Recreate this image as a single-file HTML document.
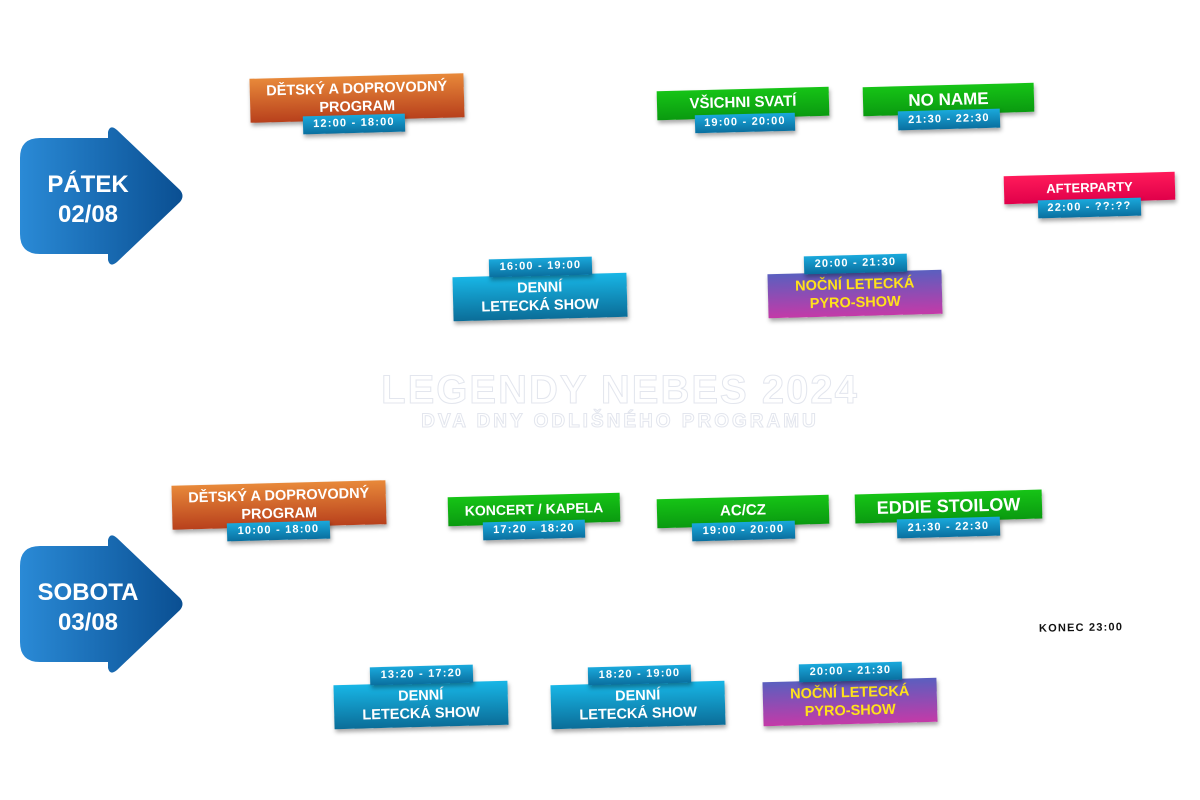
<!DOCTYPE html>
<html><head><meta charset="utf-8"><style>
body{margin:0;width:1200px;height:800px;background:#fff;position:relative;overflow:hidden;font-family:"Liberation Sans",sans-serif;}
.b{position:absolute;display:flex;align-items:center;justify-content:center;text-align:center;color:#fff;font-weight:bold;transform:rotate(-1.5deg);box-shadow:1px 3px 4px rgba(0,0,0,.35);line-height:1.25;}
.m{font-size:14.5px;}
.t{font-size:11px;letter-spacing:1.2px;background:linear-gradient(#1aa9dc,#0a6f9f);z-index:2;}
.or{background:linear-gradient(#e8893a,#b8401c);}
.gr{background:linear-gradient(#16c416,#0a9a10);font-size:15px;}
.bl{background:linear-gradient(#18b6e6,#0b6d98);}
.pu{background:linear-gradient(#5a5fbf,#c43aa8);color:#ffe21a;}
.pk{background:linear-gradient(#ff1a5a,#e0004a);font-size:13px;}
.center{position:absolute;left:20px;width:1200px;text-align:center;color:transparent;-webkit-text-stroke:1px #e3e6ee;font-weight:bold;}
</style></head><body>

<svg width="1200" height="800" style="position:absolute;left:0;top:0">
<defs><linearGradient id="ag" x1="0" x2="1"><stop offset="0" stop-color="#2a8ad6"/><stop offset="1" stop-color="#0a4f92"/></linearGradient></defs>
<path d="M40 138 H108 V132 Q110 124 117 130 L180 190 Q185 196 180 202 L117 262 Q110 268 108 260 V254 H40 Q20 254 20 234 V158 Q20 138 40 138Z" fill="url(#ag)"/>
<path d="M40 546 H108 V540 Q110 532 117 538 L180 598 Q185 604 180 610 L117 670 Q110 676 108 668 V662 H40 Q20 662 20 642 V566 Q20 546 40 546Z" fill="url(#ag)"/>
<text x="88" y="192" fill="#fff" font-size="24" font-weight="bold" text-anchor="middle" font-family="Liberation Sans">PÁTEK</text>
<text x="88" y="222" fill="#fff" font-size="24" font-weight="bold" text-anchor="middle" font-family="Liberation Sans">02/08</text>
<text x="88" y="600" fill="#fff" font-size="24" font-weight="bold" text-anchor="middle" font-family="Liberation Sans">SOBOTA</text>
<text x="88" y="630" fill="#fff" font-size="24" font-weight="bold" text-anchor="middle" font-family="Liberation Sans">03/08</text>
</svg>

<div class="center" style="top:368px;font-size:40px;letter-spacing:2px">LEGENDY NEBES 2024</div>
<div class="center" style="top:411px;font-size:19px;letter-spacing:3px">DVA DNY ODLIŠNÉHO PROGRAMU</div>

<!-- Friday -->
<div class="b m or" style="left:250px;top:76px;width:214px;height:44px">DĚTSKÝ A DOPROVODNÝ<br>PROGRAM</div>
<div class="b t" style="left:303px;top:115px;width:102px;height:18px">12:00 - 18:00</div>

<div class="b gr" style="left:657px;top:89px;width:172px;height:29px">VŠICHNI SVATÍ</div>
<div class="b t" style="left:695px;top:114px;width:100px;height:18px">19:00 - 20:00</div>

<div class="b gr" style="left:863px;top:85px;width:171px;height:29px;font-size:17px">NO NAME</div>
<div class="b t" style="left:898px;top:110px;width:102px;height:19px">21:30 - 22:30</div>

<div class="b pk" style="left:1004px;top:174px;width:171px;height:28px">AFTERPARTY</div>
<div class="b t" style="left:1038px;top:199px;width:103px;height:18px">22:00 - ??:??</div>

<div class="b t" style="left:489px;top:258px;width:103px;height:18px">16:00 - 19:00</div>
<div class="b m bl" style="left:453px;top:275px;width:174px;height:44px">DENNÍ<br>LETECKÁ SHOW</div>

<div class="b t" style="left:804px;top:255px;width:103px;height:18px">20:00 - 21:30</div>
<div class="b m pu" style="left:768px;top:272px;width:174px;height:44px">NOČNÍ LETECKÁ<br>PYRO-SHOW</div>

<!-- Saturday -->
<div class="b m or" style="left:172px;top:483px;width:214px;height:44px">DĚTSKÝ A DOPROVODNÝ<br>PROGRAM</div>
<div class="b t" style="left:227px;top:522px;width:103px;height:18px">10:00 - 18:00</div>

<div class="b gr" style="left:448px;top:495px;width:172px;height:29px;font-size:14px">KONCERT / KAPELA</div>
<div class="b t" style="left:483px;top:521px;width:102px;height:18px">17:20 - 18:20</div>

<div class="b gr" style="left:657px;top:497px;width:172px;height:29px">AC/CZ</div>
<div class="b t" style="left:692px;top:522px;width:103px;height:18px">19:00 - 20:00</div>

<div class="b gr" style="left:855px;top:492px;width:187px;height:29px;font-size:18px">EDDIE STOILOW</div>
<div class="b t" style="left:897px;top:518px;width:103px;height:19px">21:30 - 22:30</div>

<div style="position:absolute;left:1039px;top:622px;font-size:11px;font-weight:bold;letter-spacing:1.2px;color:#111;transform:rotate(-1deg)">KONEC 23:00</div>

<div class="b t" style="left:370px;top:666px;width:103px;height:18px">13:20 - 17:20</div>
<div class="b m bl" style="left:334px;top:683px;width:174px;height:44px">DENNÍ<br>LETECKÁ SHOW</div>

<div class="b t" style="left:588px;top:666px;width:103px;height:18px">18:20 - 19:00</div>
<div class="b m bl" style="left:551px;top:683px;width:174px;height:44px">DENNÍ<br>LETECKÁ SHOW</div>

<div class="b t" style="left:799px;top:663px;width:103px;height:18px">20:00 - 21:30</div>
<div class="b m pu" style="left:763px;top:680px;width:174px;height:44px">NOČNÍ LETECKÁ<br>PYRO-SHOW</div>

</body></html>
